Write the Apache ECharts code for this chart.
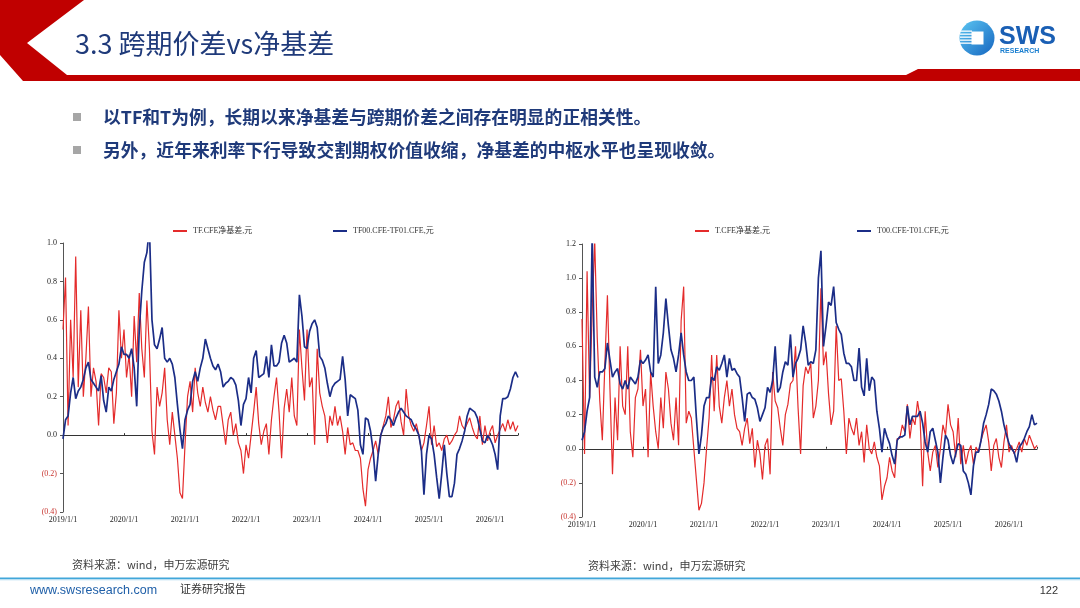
<!DOCTYPE html>
<html lang="zh">
<head>
    <meta charset="UTF-8">
    <title>3.3 跨期价差vs净基差</title>
    <script src="https://cdn.jsdelivr.net/npm/echarts@6/dist/echarts.min.js"></script>
    <style>
        html, body { margin: 0; padding: 0; background: #fff; }
        #slide { width: 1080px; height: 608px; }
    </style>
</head>
<body>
<div id="slide"></div>

<script>
    // 半月频采样, 从2019/1/1开始
    var startYear = 2019;
    var stepsPerYear = 24;
    var yearLabels = ['2019/1/1', '2020/1/1', '2021/1/1', '2022/1/1', '2023/1/1', '2024/1/1', '2025/1/1', '2026/1/1'];

    // 左图: TF
    var tfBasis = [
        0.55, 0.82, 0.05, 0.60, 0.30, 0.93, 0.25, 0.65, 0.20, 0.40, 0.67, 0.20,
        0.35, 0.28, 0.05, 0.32, 0.30, 0.22, 0.35, 0.33, 0.06, 0.22, 0.65, 0.40,
        0.55, 0.30, 0.42, 0.20, 0.62, 0.38, 0.74, 0.45, 0.30, 0.70, 0.45, 0.02,
        -0.10, 0.25, 0.15, 0.22, 0.35, 0.08, -0.05, 0.12, 0.00, -0.12, -0.30, -0.33,
        -0.05, 0.20, 0.28, 0.12, 0.35, 0.22, 0.15, 0.25, 0.17, 0.12, 0.20, 0.13,
        0.08, 0.15, 0.15, 0.05, -0.05, 0.08, 0.12, 0.00, 0.06, -0.04, -0.08, -0.20,
        -0.05, -0.12, 0.00, 0.12, 0.25, 0.06, -0.05, 0.02, 0.06, -0.10, 0.08, 0.20,
        0.30, 0.12, -0.12, 0.14, 0.24, 0.12, 0.30, 0.10, 0.05, 0.55, 0.35, 0.18,
        0.55, 0.25, 0.30, -0.05, 0.45, 0.22, 0.15, 0.10, -0.04, 0.10, 0.05, 0.15,
        0.05, 0.10, 0.02, -0.10, 0.04, -0.05, -0.04, -0.08, -0.08, -0.12, -0.28, -0.37,
        -0.18, -0.12, -0.08, -0.03, -0.10, 0.00, 0.05, 0.10, 0.20, 0.04, 0.08, 0.15,
        0.18, 0.07, 0.00, 0.24, 0.10, 0.05, 0.02, 0.06, 0.00, -0.08, -0.04, 0.05,
        0.15, -0.05, 0.05, -0.06, -0.04, -0.08, -0.02, 0.00, -0.05, -0.03, 0.00, 0.02,
        0.10, 0.05, 0.03, 0.06, 0.09, 0.04, 0.00, -0.02, 0.10, -0.05, 0.05, -0.03,
        0.02, 0.05, -0.04, 0.00, 0.03, 0.06, 0.02, 0.08, 0.03, 0.07, 0.02, 0.05
    ];
    var tfSpread = [
        -0.02, 0.08, 0.10, 0.22, 0.30, 0.19, 0.23, 0.25, 0.29, 0.35, 0.38, 0.29,
        0.27, 0.25, 0.23, 0.31, 0.18, 0.12, 0.25, 0.23, 0.29, 0.33, 0.37, 0.46,
        0.42, 0.42, 0.40, 0.45, 0.35, 0.15, 0.55, 0.75, 0.90, 0.95, 1.08, 0.60,
        0.47, 0.45, 0.50, 0.56, 0.40, 0.38, 0.40, 0.37, 0.30, 0.16, 0.03, -0.07,
        0.08, 0.13, 0.16, 0.28, 0.33, 0.28, 0.35, 0.40, 0.50, 0.45, 0.40, 0.36,
        0.34, 0.37, 0.33, 0.25, 0.27, 0.28, 0.30, 0.29, 0.26, 0.18, 0.05, 0.16,
        0.19, 0.30, 0.22, 0.40, 0.44, 0.30, 0.31, 0.32, 0.41, 0.30, 0.47, 0.36,
        0.36, 0.38, 0.48, 0.52, 0.48, 0.38, 0.39, 0.40, 0.38, 0.73, 0.62, 0.46,
        0.45, 0.54, 0.58, 0.60, 0.56, 0.41, 0.39, 0.35, 0.27, 0.20, 0.25, 0.27,
        0.28, 0.29, 0.41, 0.29, 0.10, 0.21, 0.20, 0.19, 0.13, -0.05, -0.10, 0.09,
        0.08, 0.02, -0.08, -0.24, -0.10, 0.00, 0.04, 0.06, 0.10, 0.08, 0.05, 0.09,
        0.12, 0.14, 0.12, 0.10, 0.09, 0.08, 0.05, 0.03, 0.00, -0.08, -0.31, -0.10,
        0.00, -0.02, -0.10, -0.22, -0.33, -0.20, -0.05, -0.20, -0.32, -0.32, -0.25, -0.10,
        -0.07, -0.03, 0.02, 0.10, 0.14, 0.13, 0.12, 0.09, 0.03, -0.03, -0.04, 0.00,
        -0.02, -0.05, -0.10, -0.18, 0.10, 0.19, 0.19, 0.20, 0.24, 0.30, 0.33, 0.30
    ];

    // 右图: T
    var tBasis = [
        0.76, -0.03, 1.04, 0.30, 0.80, 1.22, 0.65, 0.28, 0.05, 0.50, 0.90, 0.35,
        -0.15, 0.30, 0.05, 0.60, 0.25, 0.20, 0.60, 0.10, -0.05, 0.30, 0.35, 0.58,
        0.25, 0.35, -0.05, 0.45, 0.25, 0.10, 0.00, 0.30, 0.12, 0.45, 0.35, 0.15,
        0.05, 0.30, 0.02, 0.75, 0.95, 0.15, 0.22, 0.18, 0.00, -0.18, -0.36, -0.32,
        -0.20, 0.00, 0.18, 0.55, 0.22, 0.55, 0.25, 0.15, 0.30, 0.40, 0.25, 0.35,
        0.20, 0.12, 0.10, 0.02, 0.12, 0.18, 0.03, 0.12, -0.11, 0.05, -0.03, -0.18,
        0.02, 0.06, -0.15, 0.45, 0.28, 0.24, 0.12, 0.02, 0.20, 0.26, 0.38, 0.40,
        0.60, 0.24, -0.03, 0.37, 0.48, 0.44, 0.50, 0.18, 0.25, 0.40, 0.94, 0.49,
        0.57, 0.32, 0.14, 0.22, 0.72, 0.40, 0.41, 0.22, -0.03, 0.18, 0.12, 0.08,
        0.18, 0.02, 0.10, -0.08, 0.14, 0.00, -0.03, 0.04, -0.05, -0.10, -0.30, -0.22,
        -0.17, -0.05, -0.13, -0.17, 0.06, 0.06, 0.14, 0.10, 0.26, 0.06, 0.18, 0.14,
        0.28, 0.18, -0.22, 0.22, -0.02, -0.13, -0.02, 0.02, -0.11, 0.00, 0.14, 0.08,
        0.26, 0.14, 0.10, -0.05, 0.18, -0.09, 0.02, -0.09, -0.02, 0.02, -0.09, 0.01,
        -0.02, 0.05, 0.10, 0.14, 0.04, -0.13, 0.02, 0.06, -0.05, -0.11, 0.04, 0.14,
        -0.02, 0.02, -0.03, 0.00, 0.04, -0.02, 0.06, 0.02, 0.08, 0.04, 0.00, 0.02
    ];
    var tSpread = [
        0.05, 0.10, 0.22, 0.30, 1.25, 0.42, 0.36, 0.45, 0.45, 0.47, 0.62, 0.52,
        0.42, 0.45, 0.47, 0.38, 0.35, 0.40, 0.35, 0.42, 0.40, 0.38, 0.42, 0.52,
        0.50, 0.52, 0.55, 0.45, 0.42, 0.95, 0.50, 0.55, 0.68, 0.88, 0.72, 0.58,
        0.53, 0.45, 0.55, 0.68, 0.55, 0.45, 0.40, 0.40, 0.42, 0.18, -0.03, 0.08,
        0.25, 0.30, 0.30, 0.42, 0.40, 0.48, 0.46, 0.50, 0.55, 0.42, 0.53, 0.46,
        0.47, 0.44, 0.42, 0.30, 0.16, 0.32, 0.33, 0.30, 0.29, 0.24, 0.16, 0.20,
        0.24, 0.36, 0.33, 0.40, 0.60, 0.33, 0.36, 0.45, 0.51, 0.49, 0.67, 0.42,
        0.50, 0.53, 0.58, 0.72, 0.62, 0.49, 0.51, 0.50, 0.58, 1.00, 1.16, 0.60,
        0.72, 0.86, 0.84, 0.95, 0.74, 0.70, 0.67, 0.56, 0.50, 0.50, 0.48, 0.40,
        0.40, 0.59, 0.36, 0.31, 0.53, 0.34, 0.42, 0.40, 0.22, 0.12, -0.02, 0.12,
        0.07, 0.03, -0.04, -0.09, 0.05, 0.07, 0.07, 0.08, 0.25, 0.14, 0.19, 0.19,
        0.19, 0.22, 0.15, 0.04, -0.02, 0.10, 0.12, 0.05, -0.02, -0.20, -0.05, 0.08,
        0.05, -0.04, -0.09, -0.03, 0.03, 0.02, -0.13, -0.15, -0.20, -0.27, -0.10, -0.02,
        -0.02, 0.05, 0.15, 0.20, 0.26, 0.35, 0.34, 0.32, 0.28, 0.22, 0.14, 0.08,
        0.03, 0.00, -0.02, -0.08, 0.01, 0.03, 0.06, 0.10, 0.13, 0.20, 0.14, 0.15
    ];

    var xYears = [];
    for (var i = 0; i < tfBasis.length; i++) {
        xYears.push(startYear + i / stepsPerYear);
    }
    var xMax = xYears[xYears.length - 1];

    function pairs(vals) {
        return vals.map(function (v, k) { return [xYears[k], v]; });
    }

    var RED = '#E42B2B';
    var BLUE = '#1B2D87';
    var SERIF = '"Liberation Serif", "Times New Roman", "Noto Sans CJK SC", serif';
    var CJK = '"Noto Sans CJK SC", sans-serif';

    function yearText(v) {
        var k = Math.round(v - startYear);
        if (Math.abs(v - Math.round(v)) > 1e-6 || k < 0 || k >= yearLabels.length) return '';
        return yearLabels[k];
    }

    function labelAxis(g) {
        return {
            gridIndex: g, type: 'value', min: startYear, max: xMax, interval: 1,
            position: 'bottom',
            axisLine: {show: false, onZero: false}, axisTick: {show: false}, splitLine: {show: false},
            axisLabel: {
                formatter: yearText, showMaxLabel: false, margin: 4,
                fontSize: 8, fontFamily: SERIF, color: '#222'
            }
        };
    }

    // 0轴横线
    function zeroAxis(g) {
        return {
            gridIndex: g, type: 'value', min: startYear, max: xMax, interval: 1,
            position: 'top',
            axisLine: {show: true, onZero: true, onZeroAxisIndex: g, lineStyle: {color: '#333', width: 1}},
            axisTick: {show: true, length: 2, lineStyle: {color: '#333'}},
            axisLabel: {show: false}, splitLine: {show: false}
        };
    }

    function valueAxis(g, top) {
        return {
            gridIndex: g, type: 'value', min: -0.4, max: top, interval: 0.2,
            axisLine: {show: true, onZero: false, lineStyle: {color: '#555', width: 1}},
            axisTick: {show: true, length: 3, lineStyle: {color: '#555'}},
            splitLine: {show: false},
            axisLabel: {
                margin: 6, fontSize: 8, fontFamily: SERIF,
                formatter: function (v) {
                    return v < -1e-9 ? '(' + Math.abs(v).toFixed(1) + ')' : Math.abs(v).toFixed(1);
                },
                color: function (v) {
                    return v < -1e-9 ? '#C8352F' : '#222';
                }
            }
        };
    }

    function legendAt(name, left) {
        return {
            data: [name], left: left, top: 227, padding: 0,
            icon: 'rect', itemWidth: 14, itemHeight: 2, itemGap: 4,
            textStyle: {fontSize: 8, fontFamily: SERIF, color: '#333', padding: [0, 0, 0, 1]}
        };
    }

    function lineSeries(name, vals, xi, yi, color, width) {
        return {
            name: name, type: 'line', xAxisIndex: xi, yAxisIndex: yi,
            data: pairs(vals), showSymbol: false, symbol: 'none',
            lineStyle: {color: color, width: width}, itemStyle: {color: color},
            clip: true, animation: false
        };
    }

    var headerPoints = [[0, 0], [84, 0], [27, 43], [67, 75], [906, 75], [918, 69], [1080, 69], [1080, 81], [23, 81], [0, 55]];

    var option = {
        backgroundColor: '#fff',
        animation: false,
        grid: [
            {left: 63, top: 243, width: 455, height: 269},
            {left: 582, top: 244, width: 455, height: 273}
        ],
        xAxis: [labelAxis(0), zeroAxis(0), labelAxis(1), zeroAxis(1)],
        yAxis: [valueAxis(0, 1.0), valueAxis(1, 1.2)],
        legend: [
            legendAt('TF.CFE净基差,元', 173),
            legendAt('TF00.CFE-TF01.CFE,元', 333),
            legendAt('T.CFE净基差,元', 695),
            legendAt('T00.CFE-T01.CFE,元', 857)
        ],
        series: [
            lineSeries('TF.CFE净基差,元', tfBasis, 0, 0, RED, 1.2),
            lineSeries('TF00.CFE-TF01.CFE,元', tfSpread, 0, 0, BLUE, 1.7),
            lineSeries('T.CFE净基差,元', tBasis, 2, 1, RED, 1.2),
            lineSeries('T00.CFE-T01.CFE,元', tSpread, 2, 1, BLUE, 1.7)
        ],
        graphic: {
            elements: [
                {type: 'polygon', shape: {points: headerPoints}, style: {fill: '#C00000'}, silent: true},
                {type: 'text', x: 75, y: 44, style: {text: '3.3 跨期价差vs净基差', font: '27px ' + CJK, fill: '#1F3A7A', verticalAlign: 'middle'}},
                // logo
                {type: 'circle', shape: {cx: 977, cy: 38, r: 17.5}, style: {fill: {type: 'linear', x: 0, y: 0, x2: 1, y2: 1, colorStops: [{offset: 0, color: '#5CC6F2'}, {offset: 1, color: '#1565C0'}]}}},
                {type: 'rect', shape: {x: 960, y: 30.5, width: 12, height: 1.3}, style: {fill: '#fff'}},
                {type: 'rect', shape: {x: 960, y: 33.5, width: 12, height: 1.3}, style: {fill: '#fff'}},
                {type: 'rect', shape: {x: 960, y: 36.5, width: 12, height: 1.3}, style: {fill: '#fff'}},
                {type: 'rect', shape: {x: 960, y: 39.5, width: 12, height: 1.3}, style: {fill: '#fff'}},
                {type: 'rect', shape: {x: 960, y: 42.5, width: 12, height: 1.3}, style: {fill: '#fff'}},
                {type: 'rect', shape: {x: 971.5, y: 31.5, width: 12, height: 13}, style: {fill: '#fff'}},
                {type: 'text', x: 999, y: 37, style: {text: 'SWS', font: 'bold 25px "Liberation Sans", Arial, sans-serif', fill: '#1A5FB4', verticalAlign: 'middle'}},
                {type: 'text', x: 1000, y: 51, style: {text: 'RESEARCH', font: 'bold 7px "Liberation Sans", Arial, sans-serif', fill: '#1A7FD0', verticalAlign: 'middle'}},
                // bullets
                {type: 'rect', shape: {x: 73, y: 113, width: 8, height: 8}, style: {fill: '#A6A6A6'}},
                {type: 'text', x: 103, y: 117, style: {text: '以TF和T为例，长期以来净基差与跨期价差之间存在明显的正相关性。', font: 'bold 17.8px ' + CJK, fill: '#1F3A7A', verticalAlign: 'middle'}},
                {type: 'rect', shape: {x: 73, y: 146, width: 8, height: 8}, style: {fill: '#A6A6A6'}},
                {type: 'text', x: 103, y: 150, style: {text: '另外，近年来利率下行导致交割期权价值收缩，净基差的中枢水平也呈现收敛。', font: 'bold 17.8px ' + CJK, fill: '#1F3A7A', verticalAlign: 'middle'}},
                // sources
                {type: 'text', x: 72, y: 565, style: {text: '资料来源：wind，申万宏源研究', font: '11px ' + CJK, fill: '#404040', verticalAlign: 'middle'}},
                {type: 'text', x: 588, y: 566, style: {text: '资料来源：wind，申万宏源研究', font: '11px ' + CJK, fill: '#404040', verticalAlign: 'middle'}},
                // footer
                {type: 'rect', shape: {x: 0, y: 577.5, width: 1080, height: 2}, style: {fill: '#41A6D9'}},
                {type: 'rect', shape: {x: 0, y: 579.5, width: 1080, height: 1}, style: {fill: '#D6ECF7'}},
                {type: 'text', x: 30, y: 591, style: {text: 'www.swsresearch.com', font: '12.5px "Liberation Sans", Arial, sans-serif', fill: '#1F5FA8', verticalAlign: 'middle'}},
                {type: 'text', x: 180, y: 589, style: {text: '证券研究报告', font: '11px ' + CJK, fill: '#333', verticalAlign: 'middle'}},
                {type: 'text', x: 1058, y: 591, style: {text: '122', font: '11px "Liberation Sans", Arial, sans-serif', fill: '#333', align: 'right', verticalAlign: 'middle'}}
            ]
        }
    };

    var chart = echarts.init(document.getElementById('slide'));
    chart.setOption(option);
</script>
</body>
</html>
